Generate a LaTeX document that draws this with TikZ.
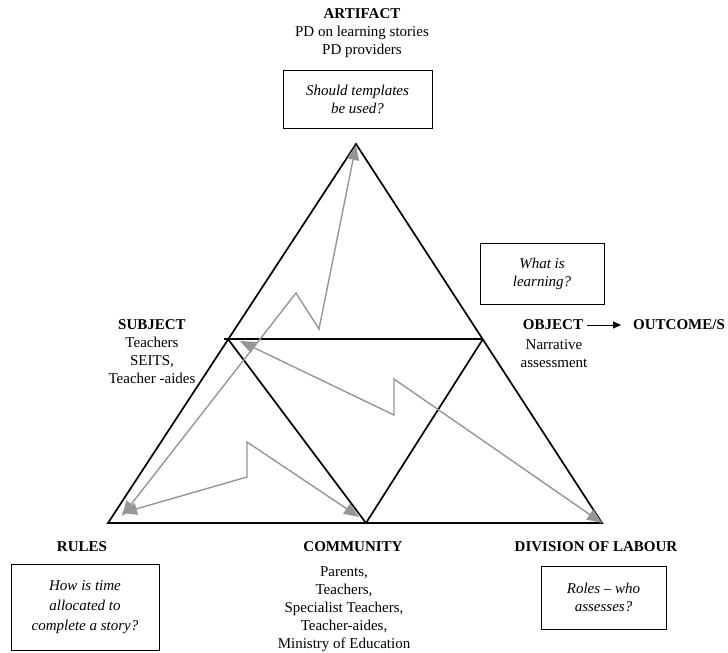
\documentclass[tikz,border=0pt]{standalone}
\usepackage{fontspec}
\setmainfont{Liberation Serif}
\usetikzlibrary{arrows.meta}
\definecolor{arrowgray}{RGB}{150,150,150}
\tikzset{
  tri/.style={draw=black, line width=1.7pt, line join=miter},
  grayarrow/.style={draw=arrowgray, line width=1.4pt, line join=miter,
    {Triangle[length=15pt,width=12pt]}-{Triangle[length=15pt,width=12pt]}},
  label/.style={font=\fontsize{15}{18}\selectfont, align=center, inner sep=0pt},
  head/.style={font=\bfseries\fontsize{15}{18}\selectfont, inner sep=0pt},
  qbox/.style={draw=black, line width=0.9pt, font=\itshape\fontsize{15}{18}\selectfont,
    align=center, inner sep=0pt},
}
\begin{document}
\begin{tikzpicture}[x=1pt,y=-1pt]
\useasboundingbox (0,0) rectangle (728,653);
\fill[white] (0,0) rectangle (728,653);
% triangle vertices
\coordinate (A) at (356,144);
\coordinate (BL) at (108,523);
\coordinate (BR) at (602,523);
\coordinate (BM) at (366,523);
\coordinate (ML) at (228,339);
\coordinate (MLx) at (224,339);
\coordinate (MR) at (483,339);
\draw[tri] (A) -- (BL) -- (BR) -- cycle;
\draw[tri] (MLx) -- (MR);
\draw[tri] (ML) -- (BM) -- (MR);
% grey zigzag arrows
\coordinate (p1a) at (122,516);
\coordinate (p1b) at (296,293);
\coordinate (p1c) at (319,329);
\coordinate (p1d) at (356,145);
\draw[grayarrow] (p1a) -- (p1b) -- (p1c) -- (p1d);
\coordinate (p2a) at (122,513);
\coordinate (p2b) at (247,477);
\coordinate (p2c) at (247,442);
\coordinate (p2d) at (359,517);
\draw[grayarrow] (p2a) -- (p2b) -- (p2c) -- (p2d);
\coordinate (p3a) at (240,341);
\coordinate (p3b) at (394,415);
\coordinate (p3c) at (394,379);
\coordinate (p3d) at (602,523);
\draw[grayarrow] (p3a) -- (p3b) -- (p3c) -- (p3d);
% top
\node[label] (artifact) at (362,33) {\textbf{ARTIFACT}\\PD on learning stories\\PD providers};
\node[qbox, minimum width=149pt, minimum height=58pt] (templates) at (357.5,99) {Should templates\\be used?};
% right
\node[qbox, minimum width=124pt, minimum height=61pt] (learning) at (542,273.5) {What is\\learning?};
\node[head] (object) at (553,325) {OBJECT};
\node[head, anchor=west] (outcome) at (633,325) {OUTCOME/S};
\draw[line width=0.9pt, -{Triangle[length=8pt,width=7pt]}] (object.east) ++(4,0) coordinate (oa) -- (outcome.west -| 621,0) coordinate (ob);
\node[label] (narr) at (554,354) {Narrative\\assessment};
% left
\node[label] (subject) at (152,352) {\textbf{SUBJECT}\\Teachers\\SEITS,\\Teacher -aides};
% bottom
\node[head] (rules) at (82,547) {RULES};
\node[qbox, minimum width=148pt, minimum height=86pt, font=\itshape\fontsize{15}{20}\selectfont] (time) at (85,607) {How is time\\allocated to\\complete a story?};
\node[head] (community) at (353,547) {COMMUNITY};
\node[label] (members) at (344,609) {Parents,\\Teachers,\\Specialist Teachers,\\Teacher-aides,\\Ministry of Education};
\node[head] (division) at (596,547) {DIVISION OF LABOUR};
\node[qbox, minimum width=125pt, minimum height=63pt] (roles) at (603.5,597.5) {Roles -- who\\assesses?};
\end{tikzpicture}
\end{document}
